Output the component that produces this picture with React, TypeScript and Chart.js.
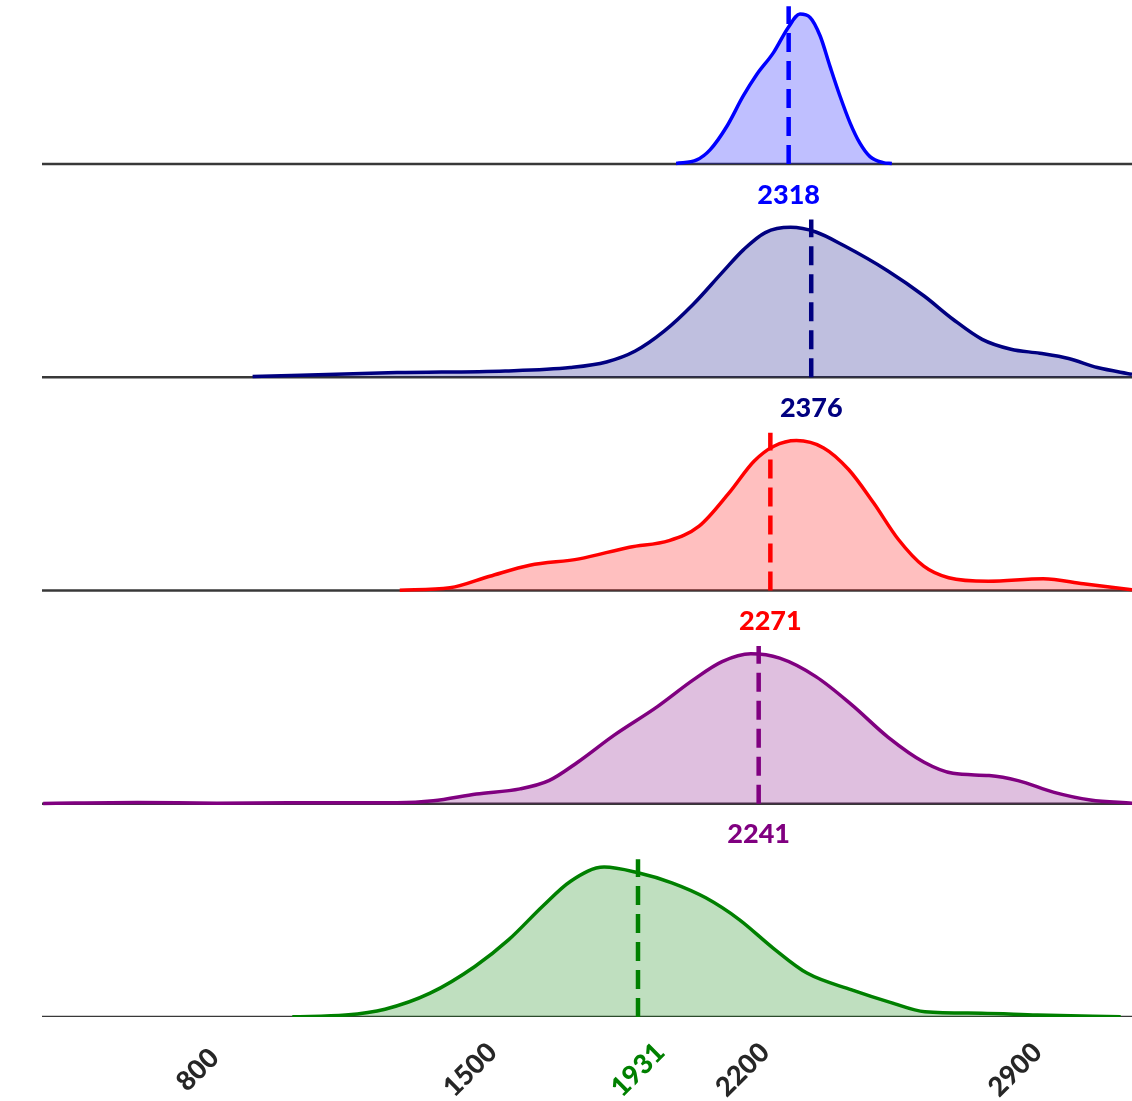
import React, { useEffect, useRef } from "react";
import { Chart, registerables } from "chart.js";

Chart.register(...registerables);

// ---- data ----
const X_MIN = 400;
const X_MAX = 3200;
const TICK_VALUES = [800, 1500, 2200, 2900];

// relative density (peak = 1) per ridge, top to bottom
const BLUE_X = [2029, 2082, 2116, 2159, 2201, 2236, 2279, 2317, 2347, 2373, 2399, 2424, 2450, 2476, 2501, 2527, 2561, 2583];
const BLUE_H = [0.004, 0.027, 0.094, 0.25, 0.452, 0.597, 0.743, 0.911, 1.0, 0.978, 0.854, 0.653, 0.452, 0.273, 0.139, 0.049, 0.009, 0.003];

const NAVY_X = [941, 1312, 1590, 1757, 1850, 1924, 1999, 2073, 2147, 2203, 2258, 2323, 2388, 2462, 2573, 2666, 2740, 2815, 2889, 2963, 3037, 3111, 3200];
const NAVY_H = [0.005, 0.031, 0.042, 0.065, 0.102, 0.175, 0.309, 0.487, 0.698, 0.853, 0.965, 1.0, 0.969, 0.875, 0.709, 0.542, 0.387, 0.253, 0.187, 0.16, 0.125, 0.065, 0.02];

const RED_X = [1319, 1448, 1550, 1653, 1780, 1909, 2011, 2088, 2165, 2229, 2280, 2338, 2408, 2472, 2536, 2600, 2665, 2729, 2831, 2972, 3075, 3200];
const RED_H = [0.002, 0.018, 0.095, 0.169, 0.211, 0.289, 0.333, 0.429, 0.651, 0.862, 0.962, 1.0, 0.951, 0.807, 0.585, 0.34, 0.162, 0.085, 0.062, 0.078, 0.045, 0.005];

const PURPLE_X = [403, 645, 849, 1034, 1312, 1405, 1516, 1628, 1702, 1776, 1869, 1980, 2073, 2147, 2221, 2295, 2388, 2481, 2573, 2666, 2740, 2833, 2907, 3000, 3093, 3200];
const PURPLE_H = [0.002, 0.008, 0.004, 0.006, 0.007, 0.02, 0.065, 0.099, 0.154, 0.277, 0.456, 0.646, 0.826, 0.948, 1.0, 0.971, 0.848, 0.658, 0.445, 0.277, 0.203, 0.188, 0.154, 0.076, 0.025, 0.004];

const GREEN_X = [1043, 1180, 1281, 1397, 1512, 1599, 1686, 1758, 1844, 1931, 2018, 2105, 2191, 2278, 2365, 2480, 2581, 2668, 2813, 2957, 3171];
const GREEN_H = [0.002, 0.013, 0.052, 0.159, 0.337, 0.516, 0.739, 0.906, 1.0, 0.962, 0.895, 0.795, 0.65, 0.46, 0.293, 0.181, 0.096, 0.035, 0.025, 0.013, 0.002];

const MEDIANS = [2318, 2376, 2271, 2241, 1931];

const RIDGE_X = [BLUE_X, NAVY_X, RED_X, PURPLE_X, GREEN_X];
const RIDGE_H = [BLUE_H, NAVY_H, RED_H, PURPLE_H, GREEN_H];

// ---- styles ----
const LINE_COLORS = ["#0000ff", "#000080", "#ff0000", "#800080", "#008000"];
const FILL_COLORS = [
  "rgba(0,0,255,0.25)",
  "rgba(0,0,128,0.25)",
  "rgba(255,0,0,0.25)",
  "rgba(128,0,128,0.25)",
  "rgba(0,128,0,0.25)",
];
const PEAK = 0.703; // ridge peak height in panel units
const MEDIAN_TOP = 0.74;
const N = 5;
const Y_MAX = 1017 / 213.25;
const FONT = "900 27px Lato";
const TICK_COLOR = "#262626";

const labelsPlugin = {
  id: "ridgeLabels",
  afterDatasetsDraw(chart: any) {
    const { ctx, scales } = chart;
    const xs = scales.x;
    const ys = scales.y;
    ctx.save();
    ctx.font = FONT;
    ctx.textAlign = "center";
    ctx.textBaseline = "middle";
    for (let i = 0; i < N - 1; i++) {
      const off = N - 1 - i;
      ctx.fillStyle = LINE_COLORS[i];
      ctx.fillText(String(MEDIANS[i]), xs.getPixelForValue(MEDIANS[i]), ys.getPixelForValue(off) + 31);
    }
    const by = ys.getPixelForValue(0) + 53;
    const items = TICK_VALUES.map((v) => ({ v, c: TICK_COLOR }));
    items.push({ v: MEDIANS[N - 1], c: LINE_COLORS[N - 1] });
    items.forEach(({ v, c }) => {
      ctx.save();
      ctx.translate(xs.getPixelForValue(v), by);
      ctx.rotate(-Math.PI / 4);
      ctx.fillStyle = c;
      ctx.fillText(String(v), 0, 0);
      ctx.restore();
    });
    ctx.restore();
  },
};

export default function App() {
  const ref = useRef<HTMLCanvasElement | null>(null);
  useEffect(() => {
    if (!ref.current) return;
    const datasets: any[] = [];
    for (let i = 0; i < N; i++) {
      const off = N - 1 - i;
      datasets.push({
        data: [
          { x: X_MIN, y: off },
          { x: X_MAX, y: off },
        ],
        borderColor: "#383838",
        borderWidth: 2.5,
        pointRadius: 0,
        fill: false,
        order: 3,
      });
      datasets.push({
        data: RIDGE_X[i].map((x, k) => ({ x, y: off + RIDGE_H[i][k] * PEAK })),
        borderColor: LINE_COLORS[i],
        backgroundColor: FILL_COLORS[i],
        borderWidth: 3.5,
        pointRadius: 0,
        cubicInterpolationMode: "monotone",
        fill: { value: off },
        order: 2,
      });
      datasets.push({
        data: [
          { x: MEDIANS[i], y: off },
          { x: MEDIANS[i], y: off + MEDIAN_TOP },
        ],
        borderColor: LINE_COLORS[i],
        borderWidth: 4.5,
        borderDash: [19, 9],
        pointRadius: 0,
        fill: false,
        order: 1,
      });
    }
    const chart = new Chart(ref.current, {
      type: "line",
      data: { datasets },
      options: {
        animation: false,
        responsive: false,
        layout: { padding: { left: 42, right: 0, top: 0, bottom: 0 } },
        plugins: { legend: { display: false }, tooltip: { enabled: false } },
        scales: {
          x: {
            type: "linear",
            min: X_MIN,
            max: X_MAX,
            grid: { display: false },
            border: { display: false },
            ticks: { display: false },
            afterBuildTicks: (s: any) => {
              s.ticks = TICK_VALUES.map((v) => ({ value: v }));
            },
            afterFit: (s: any) => {
              s.height = 84;
            },
          },
          y: { type: "linear", display: false, min: 0, max: Y_MAX },
        },
      },
      plugins: [labelsPlugin],
    } as any);
    return () => chart.destroy();
  }, []);
  return (
    <div style={{ position: "absolute", left: 0, top: 0, width: 1132, height: 1101, background: "#fff" }}>
      <canvas ref={ref} width={1132} height={1101} style={{ display: "block" }} />
    </div>
  );
}
